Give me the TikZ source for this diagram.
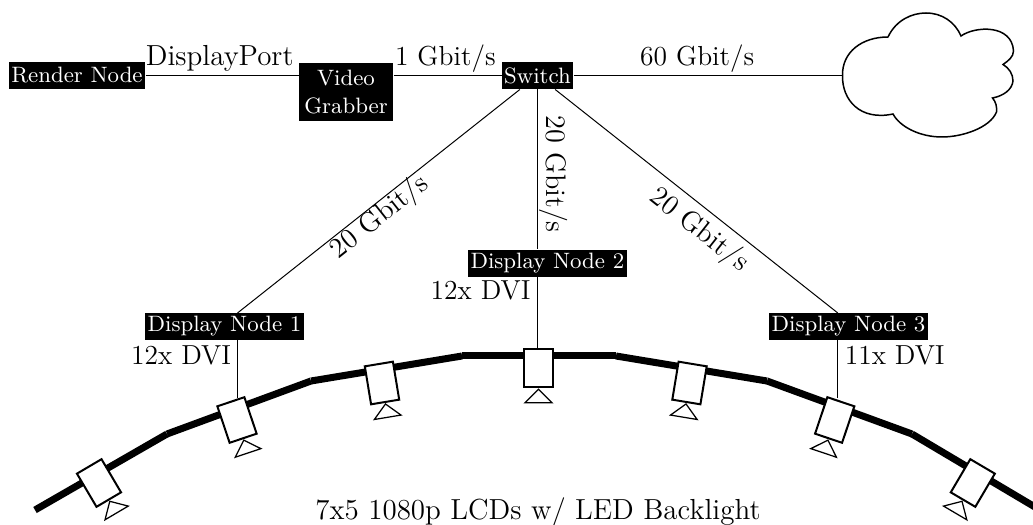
\documentclass[tikz,border=0pt]{standalone}
\usetikzlibrary{positioning}
\begin{document}
\begin{tikzpicture}[
    x=0.4pt, y=-0.4pt,
    hostbox/.style={fill=black, text=white, font=\fontsize{8.9}{10.9}\selectfont, inner sep=0pt, minimum height=10.8pt, align=center},
    linklabel/.style={font=\fontsize{11}{13}\selectfont, inner sep=0pt, text height=7.6pt, text depth=2.2pt},
    widelabel/.style={linklabel, font=\fontsize{11.6}{14}\selectfont},
    ratelabel/.style={linklabel, font=\fontsize{11.3}{14}\selectfont, sloped},
    panel/.style={draw, thick, fill=white, minimum width=11.4pt, minimum height=15.4pt, inner sep=0pt},
    stand/.style={draw, line width=0.5pt, fill=white},
    wall/.style={line width=2.8pt, line cap=butt}
]
    \useasboundingbox (0,0) rectangle (1033,525);

    % --- LCD WALL ---
    \coordinate (w0) at (35,510);
    \coordinate (w1) at (167,434);
    \coordinate (w2) at (311,381);
    \coordinate (w3) at (462,356);
    \coordinate (w4) at (616,356);
    \coordinate (w5) at (767,381);
    \coordinate (w6) at (912,434);
    \coordinate (w7) at (1040,510);
    \foreach \a/\b in {0/1, 1/2, 2/3, 3/4, 4/5, 5/6, 6/7}
        \draw[wall] (w\a) -- (w\b);

    % Panels with their stands
    \foreach \name/\x/\y/\ang in {a/99/483/30.5, b/237/420/18.6, c/382/383/9.4, d/538.5/368/0, e/689.5/383/-9.4, f/834.7/420/-18.6, g/972.8/483/-30.5} {
        \node[panel, rotate=\ang] (panel\name) at (\x,\y) {};
        \draw[stand, shift={(panel\name.south)}, rotate=\ang] (0,1) -- (-13.5,14.5) -- (13.5,14.5) -- cycle;
    }

    % --- HOSTS ---
    \node[hostbox, minimum width=54.4pt] (render) at (77,75.5) {Render Node};
    \node[hostbox, minimum width=37.6pt, minimum height=23.2pt] (grabber) at (346,92) {Video\\Grabber};
    \node[hostbox, minimum width=28.4pt] (switch) at (537.5,75.5) {Switch};
    \node[hostbox, minimum width=63.6pt] (display1) at (224.5,326.5) {Display Node 1};
    \node[hostbox, minimum width=63.6pt] (display2) at (547.4,263.5) {Display Node 2};
    \node[hostbox, minimum width=63.6pt] (display3) at (848.5,326.5) {Display Node 3};

    % --- CLOUD ---
    \coordinate (cloudleft) at (842.5,75.5);
    \draw[semithick] (cloudleft)
        .. controls (842,52) and (862,37) .. (888,37)
        .. controls (896,20) and (912,13) .. (926,13)
        .. controls (942,13) and (955,22) .. (961,36)
        .. controls (975,26) and (1012,24) .. (1013.5,51)
        .. controls (1013.5,57) and (1008,61) .. (1003,64.5)
        .. controls (1009,68) and (1013,74) .. (1013,81)
        .. controls (1012,90) and (1003,96) .. (992.5,98)
        .. controls (996,102) and (997,107) .. (996.5,112)
        .. controls (990,128) and (962,137) .. (942,137)
        .. controls (920,137) and (900,127) .. (893,114)
        .. controls (860,121) and (842,100) .. (cloudleft);

    % --- LINKS ---
    \coordinate (tap1) at (237.5,313);
    \coordinate (tap3) at (837.8,313);
    \coordinate (feed1) at (237.5,398);
    \coordinate (feed3) at (837.8,398);

    \draw (render) -- node[widelabel, pos=0.485, yshift=6.6pt] {DisplayPort} (grabber.west |- render);
    \draw (grabber.east |- switch) -- node[linklabel, pos=0.48, yshift=6.8pt] {1 Gbit/s} (switch);
    \draw (switch) -- node[linklabel, pos=0.46, yshift=6.6pt] {60 Gbit/s} (cloudleft);

    \draw (switch) -- node[ratelabel, pos=0.525, below=0.3pt] {20 Gbit/s} (tap1);
    \draw (switch) -- node[ratelabel, pos=0.53, above=1pt] {20 Gbit/s} (display2.north -| switch);
    \draw (switch) -- node[ratelabel, pos=0.556, below=3.5pt] {20 Gbit/s} (tap3);

    \draw (tap1 |- display1.south) -- (feed1);
    \draw (switch |- display2.south) -- (switch |- paneld.north);
    \draw (tap3 |- display3.south) -- (feed3);

    % --- TEXT ---
    \node[linklabel, left=2.4pt of {(237.5,358)}] (dvi1) {12x DVI};
    \node[linklabel, left=2.4pt of {(537,293)}] (dvi2) {12x DVI};
    \node[linklabel, right=2.6pt of {(837.8,358)}] (dvi3) {11x DVI};
    \node[widelabel] (caption) at (538,513) {7x5 1080p LCDs w/ LED Backlight};
\end{tikzpicture}
\end{document}
